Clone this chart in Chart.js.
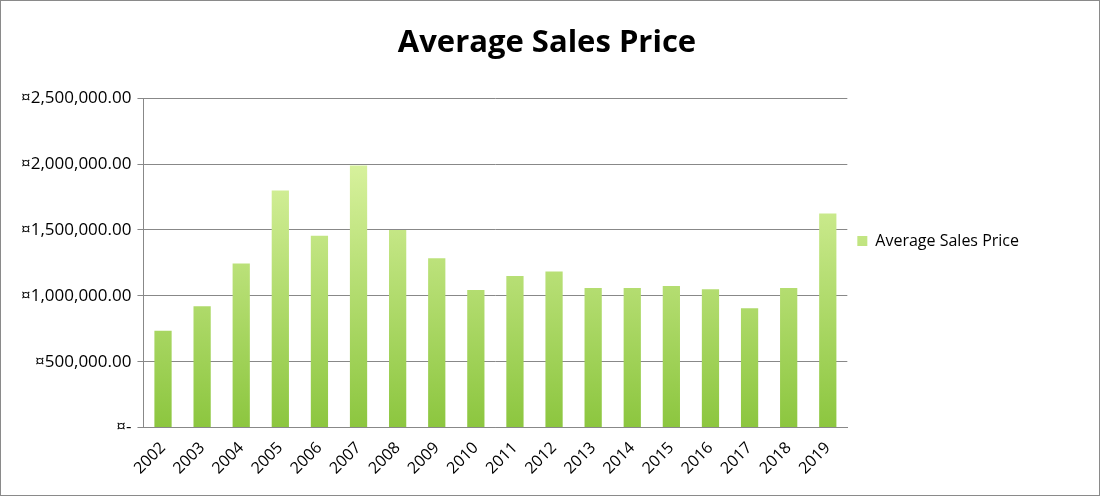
<!DOCTYPE html>
<html>
<head>
<meta charset="utf-8">
<script src="https://cdn.jsdelivr.net/npm/chart.js@4"></script>
<style>
  html, body { margin: 0; padding: 0; background: #fff; }
  #wrap { position: absolute; left: 0; top: 0; width: 1098px; height: 494px; border: 1px solid #8a8a8a; }
</style>
</head>
<body>
<div id="wrap"><canvas id="salesChart"></canvas></div>
<script>
const years = ["2002","2003","2004","2005","2006","2007","2008","2009","2010","2011","2012","2013","2014","2015","2016","2017","2018","2019"];
const avgPrice = [735000, 920000, 1245000, 1800000, 1455000, 1990000, 1500000, 1285000, 1045000, 1150000, 1185000, 1060000, 1060000, 1075000, 1050000, 905000, 1060000, 1625000];

const fmtMoney = (v) => v === 0 ? "\u00a4-" : "\u00a4" + v.toLocaleString("en-US", { minimumFractionDigits: 2, maximumFractionDigits: 2 });

// gradient fill, light on top, darker at the base
const barFill = (context) => {
  const { chart } = context;
  const area = chart.chartArea;
  if (!area) return "#b5dd6a";
  const g = chart.ctx.createLinearGradient(0, area.top, 0, area.bottom);
  g.addColorStop(0, "#eafcb4");
  g.addColorStop(1, "#8cc63f");
  return g;
};

// make the legend column wider so the plot ends where the reference's does
const widenLegend = {
  id: "widenLegend",
  beforeLayout(chart) {
    const l = chart.legend;
    if (l && !l._widened) {
      const fit = l.fit.bind(l);
      l.fit = function () { fit(); this.width += 50; };
      l._widened = true;
    }
  },
};

Chart.defaults.font.family = "'Open Sans', sans-serif";
Chart.defaults.color = "#000";

const ctx = document.getElementById("salesChart").getContext("2d");
new Chart(ctx, {
  type: "bar",
  plugins: [widenLegend],
  data: {
    labels: years,
    datasets: [{
      label: "Average Sales Price",
      data: avgPrice,
      backgroundColor: barFill,
      borderWidth: 0,
      categoryPercentage: 0.9,
      barPercentage: 0.49,
    }],
  },
  options: {
    responsive: true,
    maintainAspectRatio: false,
    animation: false,
    layout: { padding: { left: 14, right: 20, top: 0, bottom: 14 } },
    scales: {
      x: {
        grid: { display: false },
        border: { color: "#888" },
        ticks: { maxRotation: 45, minRotation: 45, font: { size: 16 } },
      },
      y: {
        min: 0,
        max: 2500000,
        grid: { color: "#888", tickLength: 6 },
        border: { color: "#888" },
        ticks: { stepSize: 500000, callback: fmtMoney, font: { size: 17 }, padding: 6 },
      },
    },
    plugins: {
      title: {
        display: true,
        text: "Average Sales Price",
        font: { size: 31, weight: "bold" },
        padding: { top: 24, bottom: 36 },
      },
      legend: {
        position: "right",
        labels: { boxWidth: 10, boxHeight: 10, font: { size: 16 }, padding: 10 },
      },
      tooltip: { enabled: false },
    },
  },
});
</script>
</body>
</html>
